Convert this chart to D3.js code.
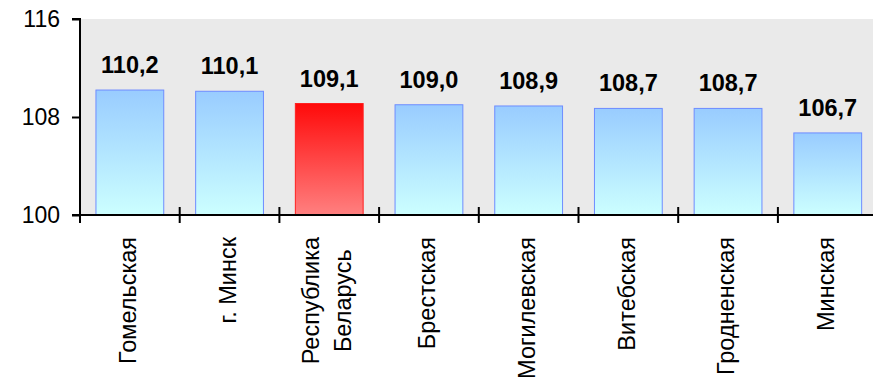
<!DOCTYPE html>
<html>
<head>
<meta charset="utf-8">
<script src="https://cdn.jsdelivr.net/npm/d3@7/dist/d3.min.js"></script>
<style>
  html, body { margin: 0; padding: 0; background: #fff; }
  svg { display: block; }
  text { font-family: Arial, "Liberation Sans", sans-serif; }
</style>
</head>
<body>
<svg id="chart" width="873" height="383"></svg>
<script>
const categories = [["Гомельская"], ["г. Минск"], ["Республика", "Беларусь"], ["Брестская"], ["Могилевская"], ["Витебская"], ["Гродненская"], ["Минская"]];
const values = [110.2, 110.1, 109.1, 109.0, 108.9, 108.7, 108.7, 106.7];
const valueLabels = ["110,2", "110,1", "109,1", "109,0", "108,9", "108,7", "108,7", "106,7"];
const highlight = [false, false, true, false, false, false, false, false];
const yTicks = [100, 108, 116];

(function () {
const svg = d3.select("#chart");
const W = 873;
const mLeft = 80, mTop = 19, mBottom = 215;
const step = 99.7;

const x = d3.scaleBand().domain(d3.range(categories.length)).range([mLeft, mLeft + step * categories.length]).paddingInner(0.32).paddingOuter(0.16);
const xTick = d3.scaleLinear().domain([0, categories.length]).range([mLeft, mLeft + step * categories.length]);
const y = d3.scaleLinear().domain([100, 116]).range([mBottom, mTop]);

const defs = svg.append("defs");
const gBlue = defs.append("linearGradient").attr("id", "gBlue").attr("x1", 0).attr("y1", 0).attr("x2", 0).attr("y2", 1);
gBlue.append("stop").attr("offset", "0%").attr("stop-color", "#99CCFF");
gBlue.append("stop").attr("offset", "100%").attr("stop-color", "#CCFFFF");
const gRed = defs.append("linearGradient").attr("id", "gRed").attr("x1", 0).attr("y1", 0).attr("x2", 0).attr("y2", 1);
gRed.append("stop").attr("offset", "0%").attr("stop-color", "#FF0A0A");
gRed.append("stop").attr("offset", "100%").attr("stop-color", "#FF8080");

// plot background
svg.append("rect").attr("x", mLeft).attr("y", mTop).attr("width", W - mLeft).attr("height", mBottom - mTop).attr("fill", "#EAEAEA");

// bars
svg.selectAll("rect.bar").data(values).join("rect")
  .attr("class", "bar")
  .attr("x", (d, i) => x(i))
  .attr("width", x.bandwidth())
  .attr("y", d => y(d))
  .attr("height", d => y(100) - y(d))
  .attr("fill", (d, i) => highlight[i] ? "url(#gRed)" : "url(#gBlue)")
  .attr("stroke", (d, i) => highlight[i] ? "#FF2020" : "#6E8CFF")
  .attr("stroke-width", 1);

// value labels
svg.selectAll("text.val").data(values).join("text")
  .attr("class", "val")
  .attr("x", (d, i) => x(i) + x.bandwidth() / 2)
  .attr("y", d => y(d) - 17)
  .attr("text-anchor", "middle")
  .attr("font-size", "23.5px")
  .attr("font-weight", "bold")
  .attr("fill", "#000")
  .text((d, i) => valueLabels[i]);

// y axis
const yAxis = d3.axisLeft(y).tickValues(yTicks).tickSize(8).tickPadding(12).tickFormat(d3.format("d"));
const gy = svg.append("g").attr("transform", `translate(${mLeft},0)`).call(yAxis);
gy.select(".domain").attr("stroke", "#000").attr("stroke-width", 2).attr("d", `M-8,${mTop}H0V${mBottom}H-8`);
gy.selectAll(".tick line").attr("stroke", "#000").attr("stroke-width", 2);
gy.selectAll(".tick text").attr("font-size", "23px").attr("fill", "#000").attr("font-family", "Arial, 'Liberation Sans', sans-serif");

// x axis (line + cross ticks)
const gx = svg.append("g");
gx.append("line").attr("x1", mLeft - 8).attr("x2", W).attr("y1", mBottom).attr("y2", mBottom).attr("stroke", "#000").attr("stroke-width", 2);
gx.selectAll("line.xt").data(d3.range(categories.length)).join("line")
  .attr("class", "xt")
  .attr("x1", i => xTick(i)).attr("x2", i => xTick(i))
  .attr("y1", mBottom - 8).attr("y2", mBottom + 8)
  .attr("stroke", "#000").attr("stroke-width", 2);

// category labels (rotated)
const labelTop = 237;
categories.forEach((lines, i) => {
  const cx = x(i) + x.bandwidth() / 2 - 2;
  const n = lines.length;
  const lh = 32;
  const g = svg.append("g");
  const texts = lines.map((t, k) => {
    const off = (k - (n - 1) / 2) * lh;
    return g.append("text")
      .attr("font-size", "23.5px")
      .attr("fill", "#000")
      .attr("dy", "0.35em")
      .text(t)
      .attr("data-off", off);
  });
  const maxLen = d3.max(texts, t => t.node().getComputedTextLength());
  texts.forEach(t => {
    const off = +t.attr("data-off");
    const cy = labelTop + maxLen / 2;
    t.attr("text-anchor", "middle")
     .attr("transform", `translate(${cx + off},${cy}) rotate(-90)`);
  });
});
})();
</script>
</body>
</html>
